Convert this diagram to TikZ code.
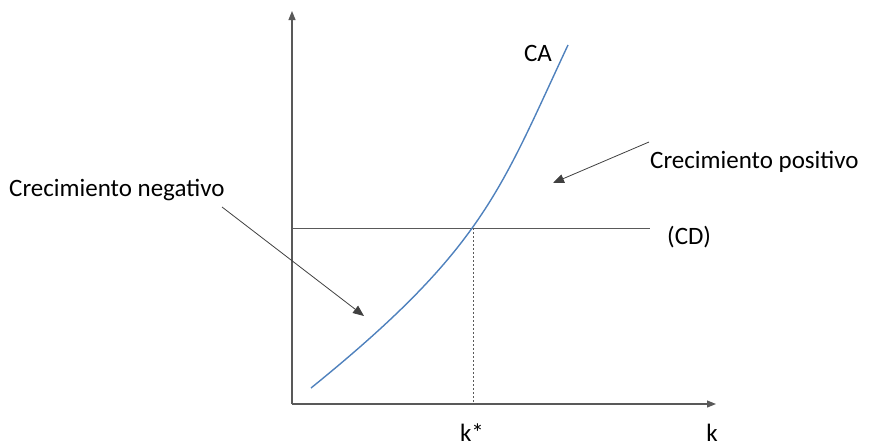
\documentclass[tikz,border=0pt]{standalone}
\usepackage{fontspec}
\setmainfont{Carlito}
\usepackage{xcolor}
\usetikzlibrary{arrows.meta,positioning}
\definecolor{AxisGray}{HTML}{595959}
\definecolor{CurveBlue}{HTML}{4F81BD}
\definecolor{PointerGray}{HTML}{404040}
\tikzset{
  axis/.style={line width=1.1pt, draw=AxisGray, -{Triangle[length=9pt, width=7pt]}},
  level/.style={line width=1pt, draw=AxisGray},
  guide/.style={line width=0.9pt, draw=AxisGray, dash pattern=on 2pt off 2pt},
  curve/.style={line width=1.4pt, draw=CurveBlue},
  pointer/.style={line width=0.8pt, draw=PointerGray, -{Triangle[length=11pt, width=9pt]}},
  lbl/.style={inner sep=0pt, font=\fontsize{25}{29}\selectfont}
}
\begin{document}
\begin{tikzpicture}[x=1pt, y=-1pt]
\useasboundingbox (0,0) rectangle (890,447);
\coordinate (O) at (292,404);
\coordinate (ytop) at (292,11);
\coordinate (xend) at (716,404);
\coordinate (cdstart) at (292,228);
\coordinate (cdend) at (650,228);
\coordinate (eq) at (473,228);
\coordinate (eqfoot) at (473,404);
% axes
\draw[axis] (O) -- (ytop);
\draw[axis] (O) -- (xend);
% CD line and k*
\draw[level] (cdstart) -- (cdend);
\draw[guide] (eq) -- (eqfoot);
% CA curve
\coordinate (castart) at (311,388);
\coordinate (caend) at (568,45);
\draw[curve] (castart) .. controls (484,248) and (500,190) .. (caend);
% labels
\node[lbl] (ca) at (538,53) {CA};
\node[lbl, anchor=west] (cd) at (667,237) {(CD)};
\node[lbl] (kstar) at (472,433) {k*};
\node[lbl] (k) at (712,433) {k};
\node[lbl, anchor=west] (pos) at (650,162) {Crecimiento positivo};
\node[lbl, anchor=west] (neg) at (9,190) {Crecimiento negativo};
% pointers
\coordinate (posfrom) at (649,142);
\coordinate (posto) at (553,183);
\coordinate (negfrom) at (222,207);
\coordinate (negto) at (364,316);
\draw[pointer] (posfrom) -- (posto);
\draw[pointer] (negfrom) -- (negto);
\end{tikzpicture}
\end{document}
